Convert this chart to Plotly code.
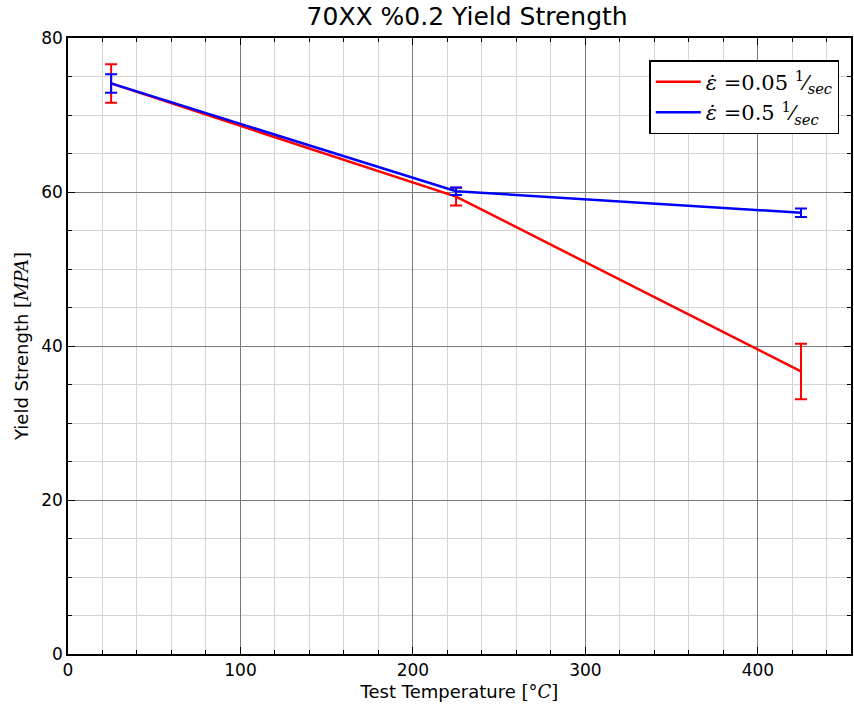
import plotly.graph_objects as go

# Test temperatures (°C)
temps = [25, 225, 425]

# 0.2% offset yield strength (MPa) and spread for each strain rate
ys_slow = [74.1, 59.4, 36.7]
err_slow = [2.5, 1.15, 3.6]
ys_fast = [74.1, 60.1, 57.3]
err_fast = [1.2, 0.5, 0.55]

label_slow = "<i>ε̇</i> =0.05 <sup>1</sup>⁄<sub><i>sec</i></sub>"
label_fast = "<i>ε̇</i> =0.5 <sup>1</sup>⁄<sub><i>sec</i></sub>"

fig = go.Figure()
fig.add_trace(go.Scatter(
    x=temps, y=ys_slow, mode="lines", name=label_slow,
    line=dict(color="#ff0000", width=2.5),
    error_y=dict(type="data", array=err_slow, color="#ff0000", thickness=2, width=6),
))
fig.add_trace(go.Scatter(
    x=temps, y=ys_fast, mode="lines", name=label_fast,
    line=dict(color="#0000ff", width=2.5),
    error_y=dict(type="data", array=err_fast, color="#0000ff", thickness=2, width=6),
))

axis_common = dict(
    showline=True, linecolor="black", linewidth=1.5, mirror="ticks",
    ticks="inside", ticklen=7, tickwidth=1, tickcolor="black",
    showgrid=True, gridcolor="#7a7a7a", gridwidth=1,
    zeroline=False,
    tickfont=dict(family="DejaVu Sans", size=17, color="black"),
)

fig.update_xaxes(
    range=[0, 454], dtick=100, tick0=0,
    minor=dict(dtick=20, showgrid=True, gridcolor="#d4d4d4", gridwidth=1,
               ticks="inside", ticklen=4, tickcolor="black"),
    title=dict(text="Test Temperature <span style='font-family:DejaVu Serif'>[°<i>C</i>]</span>",
               font=dict(family="DejaVu Sans", size=18, color="black"), standoff=6),
    **axis_common,
)
fig.update_yaxes(
    range=[0, 80], dtick=20, tick0=0,
    minor=dict(dtick=5, showgrid=True, gridcolor="#d4d4d4", gridwidth=1,
               ticks="inside", ticklen=4, tickcolor="black"),
    title=dict(text="Yield Strength <span style='font-family:DejaVu Serif'>[<i>MPA</i>]</span>",
               font=dict(family="DejaVu Sans", size=18, color="black"), standoff=8),
    **axis_common,
)

fig.update_layout(
    width=854, height=709,
    margin=dict(l=68, r=1, t=38, b=55),
    paper_bgcolor="white", plot_bgcolor="white",
    title=dict(text="70XX %0.2 Yield Strength", x=0.547, xanchor="center",
               y=0.99, yanchor="top",
               font=dict(family="DejaVu Sans", size=25, color="black")),
    legend=dict(x=0.985, y=0.964, xanchor="right", yanchor="top",
                bgcolor="white", bordercolor="black", borderwidth=1.5,
                font=dict(family="DejaVu Serif", size=21, color="black"),
                itemwidth=45),
    showlegend=True,
)

fig.write_html("out.html")
